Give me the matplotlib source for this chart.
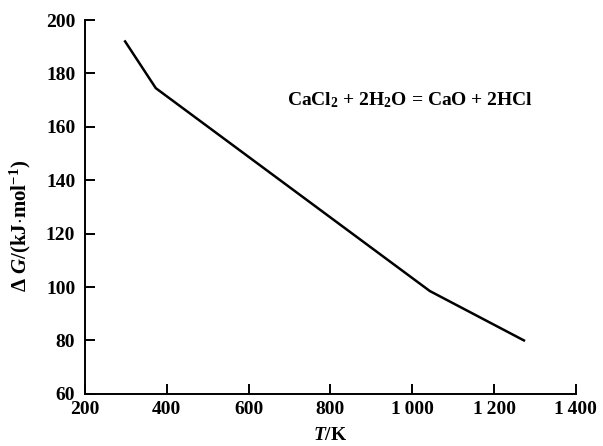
import matplotlib
matplotlib.use("Agg")
import matplotlib.pyplot as plt

T_K = [298, 373, 1043, 1273]
dG = [192, 174.5, 98.5, 80]
x_ticks = [200, 400, 600, 800, 1000, 1200, 1400]
x_ticklabels = ["200", "400", "600", "800", "1\u2009000", "1\u2009200", "1\u2009400"]
y_ticks = [60, 80, 100, 120, 140, 160, 180, 200]
annotation = r"CaCl$_\mathrm{2}$ + 2H$_\mathrm{2}$O = CaO + 2HCl"

plt.rcParams["font.family"] = ["Liberation Serif", "DejaVu Serif"]
plt.rcParams["font.weight"] = "bold"
plt.rcParams["mathtext.fontset"] = "custom"
plt.rcParams["mathtext.rm"] = "Liberation Serif:bold"
plt.rcParams["mathtext.it"] = "Liberation Serif:italic:bold"
plt.rcParams["mathtext.bf"] = "Liberation Serif:bold"

fig = plt.figure(figsize=(6.03, 4.46), dpi=100)
ax = fig.add_axes([0.141, 0.117, 0.814, 0.838])
ax.plot(T_K, dG, color="black", lw=1.8)

ax.set_xlim(200, 1400)
ax.set_ylim(60, 200)
ax.set_xticks(x_ticks)
ax.set_xticklabels(x_ticklabels)
ax.set_yticks(y_ticks)
for s in ["top", "right"]:
    ax.spines[s].set_visible(False)
for s in ["left", "bottom"]:
    ax.spines[s].set_linewidth(1.4)
ax.tick_params(axis="both", direction="in", length=7, width=1.4, labelsize=14)
ax.tick_params(axis="y", pad=7)
ax.tick_params(axis="x", pad=5)

ax.text(0.411, 0.786, annotation, transform=ax.transAxes, fontsize=14, ha="left", va="center")
ax.set_xlabel(r"$T$/K", fontsize=14, labelpad=7, fontweight="bold")
ax.set_ylabel(r"$\mathrm{\Delta}\ G$/(kJ$\cdot$mol$^{-1}$)", fontsize=15, fontweight="bold")
ax.yaxis.set_label_coords(-0.106, 0.45)

fig.savefig("out.png", dpi=100)
